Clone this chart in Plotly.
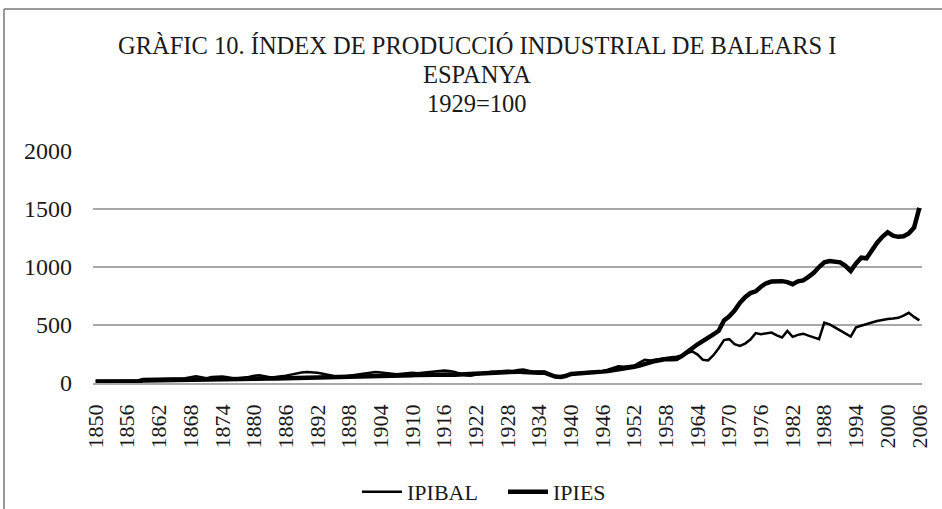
import plotly.graph_objects as go

years = list(range(1850, 2007))

ipies = [
    12, 12, 13, 13, 13, 14, 14, 14, 15, 22,
    23, 23, 24, 24, 24, 25, 25, 26, 26, 28,
    28, 29, 30, 31, 30, 31, 32, 33, 33, 34,
    36, 38, 38, 39, 38, 39, 40, 42, 43, 44,
    46, 48, 48, 47, 48, 48, 46, 49, 50, 54,
    56, 58, 58, 60, 60, 58, 60, 62, 64, 64,
    66, 70, 72, 75, 70, 72, 76, 74, 72, 74,
    78, 76, 80, 84, 86, 90, 92, 96, 98, 100,
    98, 94, 90, 86, 88, 90, 70, 55, 52, 60,
    78, 80, 84, 88, 92, 90, 98, 104, 110, 118,
    125, 132, 140, 150, 165, 178, 190, 198, 206, 204,
    206, 232, 262, 300, 334, 360, 390, 420, 450, 540,
    575, 625, 690, 740, 775, 790, 830, 860, 875, 880,
    878, 870, 852, 876, 885, 915, 950, 1000, 1040, 1052,
    1050, 1040, 1010, 965, 1030, 1080, 1075, 1150, 1210, 1260,
    1300, 1270, 1260, 1265, 1290, 1340, 1510,
]

ipibal = [
    18, 17, 18, 19, 18, 19, 20, 19, 20, 35,
    36, 36, 37, 37, 38, 38, 40, 42, 50, 58,
    50, 42, 52, 56, 55, 50, 42, 42, 45, 52,
    62, 66, 58, 50, 52, 55, 62, 72, 82, 90,
    94, 92, 88, 80, 70, 58, 52, 56, 62, 70,
    78, 85, 92, 95, 90, 84, 80, 76, 80, 86,
    88, 84, 88, 94, 100, 104, 108, 104, 96, 80,
    66, 62, 72, 82, 92, 98, 100, 104, 106, 100,
    112, 116, 104, 96, 100, 98, 72, 56, 50, 62,
    74, 82, 90, 92, 96, 94, 102, 115, 130, 145,
    140, 145, 150, 175, 200, 195, 200, 205, 214, 222,
    226, 238, 254, 272, 245, 200, 195, 240, 300, 370,
    378, 335, 320, 340, 375, 430, 420, 428, 435, 410,
    392, 448, 398, 415, 425, 408, 390, 378, 520, 505,
    480, 455, 425, 400, 480, 492, 510, 522, 535, 545,
    552, 556, 562, 580, 605, 570, 540,
]

tick_years = list(range(1850, 2007, 6))
y_ticks = [0, 500, 1000, 1500, 2000]

W, H = 942, 509
L, R, T, B = 93, 20, 151, 126
pw, ph = W - L - R, H - T - B

def px(x):
    return (x - L) / pw

def py(y):
    return (H - B - y) / ph

FONT = "Liberation Serif, Times New Roman, serif"
TXT = "#1a1a1a"

fig = go.Figure()
fig.add_trace(go.Scatter(x=years, y=ipibal, mode="lines", name="IPIBAL",
                         line=dict(color="black", width=2.5)))
fig.add_trace(go.Scatter(x=years, y=ipies, mode="lines", name="IPIES",
                         line=dict(color="black", width=4.5)))

fig.update_layout(
    width=W, height=H,
    margin=dict(l=L, r=R, t=T, b=B, autoexpand=False),
    paper_bgcolor="white", plot_bgcolor="white",
    font=dict(family=FONT, color=TXT, size=22),
    showlegend=True,
    legend=dict(orientation="h", x=px(503), xanchor="center", y=py(492), yanchor="middle",
                font=dict(size=22, family=FONT, color=TXT), itemwidth=40,
                entrywidth=91, entrywidthmode="pixels",
                bgcolor="rgba(0,0,0,0)"),
    xaxis=dict(range=[1849.5, 2006.5], tickmode="array", tickvals=tick_years,
               ticktext=[str(t) for t in tick_years], tickangle=-90,
               showgrid=False, zeroline=False, showline=True, linecolor="#a8a8a8",
               linewidth=1.5, ticks="", ticklabelstandoff=11,
               tickfont=dict(size=22, family=FONT, color=TXT)),
    yaxis=dict(range=[0, 2000], tickmode="array", tickvals=y_ticks,
               showgrid=True, gridcolor="#a8a8a8", gridwidth=1.5,
               zeroline=False, showline=False, ticks="", ticklabelstandoff=20,
               tickfont=dict(size=24, family=FONT, color=TXT)),
)

titles = [("GRÀFIC 10. ÍNDEX DE PRODUCCIÓ INDUSTRIAL DE BALEARS I", 46),
          ("ESPANYA", 75),
          ("1929=100", 103)]
for txt, yy in titles:
    fig.add_annotation(text=txt, xref="paper", yref="paper", x=px(477), y=py(yy),
                       xanchor="center", yanchor="middle", showarrow=False,
                       font=dict(size=24.5, family=FONT, color=TXT))

# outer frame lines (left and top)
fig.add_shape(type="line", xref="paper", yref="paper", x0=px(4), x1=px(4), y0=py(9), y1=py(509),
              line=dict(color="#999999", width=2))
fig.add_shape(type="line", xref="paper", yref="paper", x0=px(4), x1=px(942), y0=py(9), y1=py(9),
              line=dict(color="#999999", width=2))

fig.write_html("out.html", post_script="document.body.style.margin='0';",
               config={"displayModeBar": False})
